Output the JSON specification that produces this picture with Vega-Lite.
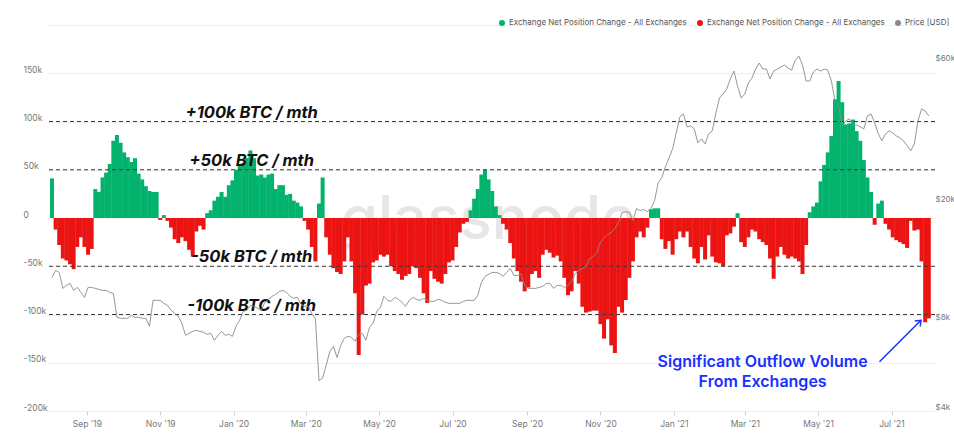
{
"$schema":"https://vega.github.io/schema/vega-lite/v6.json",
"width":888,"height":386,
"autosize":{"type":"none"},
"padding":{"left":47,"top":25,"right":19,"bottom":34},
"background":"white",
"config":{"view":{"stroke":null},"font":"Inter","axis":{"labelFont":"Inter"},"legend":{"labelFont":"Inter"}},
"datasets":{"flows":[
{"d":"2019-08-03","f":41000,"p":11280},{"d":"2019-08-06","f":-12000,"p":11908},{"d":"2019-08-09","f":-28000,"p":11725},{"d":"2019-08-12","f":-42000,"p":10359},{"d":"2019-08-15","f":-44000,"p":10603},{"d":"2019-08-18","f":-48000,"p":10768},{"d":"2019-08-21","f":-53000,"p":10200},{"d":"2019-08-24","f":-30000,"p":10440},{"d":"2019-08-27","f":-20000,"p":10043},{"d":"2019-08-30","f":-30000,"p":9662},
{"d":"2019-09-02","f":-38000,"p":10440},{"d":"2019-09-05","f":-32000,"p":10440},{"d":"2019-09-08","f":30000,"p":10359},{"d":"2019-09-11","f":27000,"p":10279},{"d":"2019-09-14","f":42000,"p":10200},{"d":"2019-09-17","f":47000,"p":10200},{"d":"2019-09-20","f":56000,"p":10043},{"d":"2019-09-23","f":80000,"p":9966},{"d":"2019-09-26","f":86000,"p":8276},{"d":"2019-09-29","f":78000,"p":8212},
{"d":"2019-10-02","f":68000,"p":8212},{"d":"2019-10-05","f":63000,"p":8212},{"d":"2019-10-08","f":58000,"p":8405},{"d":"2019-10-11","f":62000,"p":8276},{"d":"2019-10-14","f":46000,"p":8276},{"d":"2019-10-17","f":40000,"p":8212},{"d":"2019-10-20","f":33000,"p":8212},{"d":"2019-10-23","f":28000,"p":7718},{"d":"2019-10-26","f":27000,"p":9441},{"d":"2019-10-29","f":27000,"p":9441},
{"d":"2019-11-01","f":-2000,"p":9441},{"d":"2019-11-04","f":3000,"p":9224},{"d":"2019-11-07","f":-3000,"p":9082},{"d":"2019-11-10","f":-10000,"p":8737},{"d":"2019-11-13","f":-22000,"p":8536},{"d":"2019-11-16","f":-26000,"p":8340},{"d":"2019-11-19","f":-20000,"p":7900},{"d":"2019-11-22","f":-24000,"p":7196},{"d":"2019-11-25","f":-33000,"p":7308},{"d":"2019-11-28","f":-40000,"p":7422},
{"d":"2019-12-01","f":-14000,"p":7480},{"d":"2019-12-04","f":-8000,"p":7422},{"d":"2019-12-07","f":-12000,"p":7365},{"d":"2019-12-10","f":5000,"p":7252},{"d":"2019-12-13","f":8000,"p":7308},{"d":"2019-12-16","f":18000,"p":6929},{"d":"2019-12-19","f":22000,"p":7196},{"d":"2019-12-22","f":27000,"p":7422},{"d":"2019-12-25","f":22000,"p":7196},{"d":"2019-12-28","f":34000,"p":7252},{"d":"2019-12-31","f":39000,"p":7140},
{"d":"2020-01-03","f":50000,"p":7718},{"d":"2020-01-06","f":55000,"p":8086},{"d":"2020-01-09","f":57000,"p":8670},{"d":"2020-01-12","f":62000,"p":8737},{"d":"2020-01-15","f":70000,"p":9082},{"d":"2020-01-18","f":62000,"p":9012},{"d":"2020-01-21","f":44000,"p":8873},{"d":"2020-01-24","f":45000,"p":8737},{"d":"2020-01-27","f":42000,"p":9296},{"d":"2020-01-30","f":45000,"p":9514},
{"d":"2020-02-02","f":46000,"p":9737},{"d":"2020-02-05","f":30000,"p":9889},{"d":"2020-02-08","f":34000,"p":10121},{"d":"2020-02-11","f":34000,"p":10200},{"d":"2020-02-14","f":24000,"p":10043},{"d":"2020-02-17","f":25000,"p":9737},{"d":"2020-02-20","f":18000,"p":9588},{"d":"2020-02-23","f":16000,"p":9662},{"d":"2020-02-26","f":12000,"p":9153},{"d":"2020-02-29","f":-3000,"p":9012},
{"d":"2020-03-03","f":-12000,"p":9012},{"d":"2020-03-06","f":-30000,"p":8536},{"d":"2020-03-09","f":-45000,"p":8212},{"d":"2020-03-12","f":15000,"p":5060},{"d":"2020-03-15","f":42000,"p":5164},{"d":"2020-03-18","f":-20000,"p":5709},{"d":"2020-03-21","f":-38000,"p":6350},{"d":"2020-03-24","f":-52000,"p":6600},{"d":"2020-03-27","f":-56000,"p":6060},{"d":"2020-03-30","f":-58000,"p":6658},
{"d":"2020-04-02","f":-45000,"p":7030},{"d":"2020-04-05","f":-20000,"p":7140},{"d":"2020-04-08","f":-45000,"p":7085},{"d":"2020-04-11","f":-78000,"p":6875},{"d":"2020-04-14","f":-142000,"p":7252},{"d":"2020-04-17","f":-100000,"p":7308},{"d":"2020-04-20","f":-70000,"p":6929},{"d":"2020-04-23","f":-68000,"p":7658},{"d":"2020-04-26","f":-46000,"p":7900},{"d":"2020-04-29","f":-44000,"p":8670},
{"d":"2020-05-02","f":-38000,"p":8942},{"d":"2020-05-05","f":-40000,"p":9737},{"d":"2020-05-08","f":-38000,"p":9441},{"d":"2020-05-11","f":-50000,"p":9368},{"d":"2020-05-14","f":-55000,"p":9662},{"d":"2020-05-17","f":-58000,"p":9514},{"d":"2020-05-20","f":-64000,"p":9296},{"d":"2020-05-23","f":-60000,"p":9012},{"d":"2020-05-26","f":-58000,"p":9441},{"d":"2020-05-29","f":-50000,"p":9662},
{"d":"2020-06-01","f":-52000,"p":9514},{"d":"2020-06-04","f":-62000,"p":9441},{"d":"2020-06-07","f":-78000,"p":9588},{"d":"2020-06-10","f":-88000,"p":9441},{"d":"2020-06-13","f":-55000,"p":9368},{"d":"2020-06-16","f":-63000,"p":9368},{"d":"2020-06-19","f":-66000,"p":9514},{"d":"2020-06-22","f":-68000,"p":9441},{"d":"2020-06-25","f":-58000,"p":9296},{"d":"2020-06-28","f":-46000,"p":9224},
{"d":"2020-07-01","f":-44000,"p":9224},{"d":"2020-07-04","f":-30000,"p":9224},{"d":"2020-07-07","f":-15000,"p":9224},{"d":"2020-07-10","f":-6000,"p":9368},{"d":"2020-07-13","f":-4000,"p":9441},{"d":"2020-07-16","f":8000,"p":9441},{"d":"2020-07-19","f":20000,"p":9441},{"d":"2020-07-22","f":30000,"p":9813},{"d":"2020-07-25","f":45000,"p":10852},{"d":"2020-07-28","f":50000,"p":11368},{"d":"2020-07-31","f":40000,"p":11545},
{"d":"2020-08-03","f":28000,"p":11725},{"d":"2020-08-06","f":12000,"p":11725},{"d":"2020-08-09","f":3000,"p":11635},{"d":"2020-08-12","f":-6000,"p":11368},{"d":"2020-08-15","f":-12000,"p":11725},{"d":"2020-08-18","f":-26000,"p":12094},{"d":"2020-08-21","f":-42000,"p":11456},{"d":"2020-08-24","f":-55000,"p":11456},{"d":"2020-08-27","f":-66000,"p":11635},{"d":"2020-08-30","f":-76000,"p":10603},
{"d":"2020-09-02","f":-72000,"p":10359},{"d":"2020-09-05","f":-58000,"p":10359},{"d":"2020-09-08","f":-55000,"p":10359},{"d":"2020-09-11","f":-62000,"p":10440},{"d":"2020-09-14","f":-38000,"p":10521},{"d":"2020-09-17","f":-33000,"p":10768},{"d":"2020-09-20","f":-36000,"p":10768},{"d":"2020-09-23","f":-41000,"p":10359},{"d":"2020-09-26","f":-39000,"p":10603},{"d":"2020-09-29","f":-45000,"p":10603},
{"d":"2020-10-02","f":-62000,"p":10440},{"d":"2020-10-05","f":-80000,"p":10603},{"d":"2020-10-08","f":-76000,"p":10936},{"d":"2020-10-11","f":-55000,"p":11635},{"d":"2020-10-14","f":-68000,"p":11908},{"d":"2020-10-17","f":-92000,"p":12094},{"d":"2020-10-20","f":-98000,"p":12283},{"d":"2020-10-23","f":-97000,"p":13066},{"d":"2020-10-26","f":-96000,"p":13270},{"d":"2020-10-29","f":-96000,"p":13685},
{"d":"2020-11-01","f":-110000,"p":14790},{"d":"2020-11-04","f":-125000,"p":15370},{"d":"2020-11-07","f":-105000,"p":15730},{"d":"2020-11-10","f":-132000,"p":15980},{"d":"2020-11-13","f":-140000,"p":16480},{"d":"2020-11-16","f":-92000,"p":17260},{"d":"2020-11-19","f":-98000,"p":18657},{"d":"2020-11-22","f":-85000,"p":18797},{"d":"2020-11-25","f":-62000,"p":18657},{"d":"2020-11-28","f":-45000,"p":17532},
{"d":"2020-12-01","f":-20000,"p":19245},{"d":"2020-12-04","f":-14000,"p":18948},{"d":"2020-12-07","f":-20000,"p":19100},{"d":"2020-12-10","f":-10000,"p":18797},{"d":"2020-12-13","f":9000,"p":19245},{"d":"2020-12-16","f":10000,"p":20470},{"d":"2020-12-19","f":10000,"p":23532},{"d":"2020-12-22","f":-22000,"p":24440},{"d":"2020-12-25","f":-32000,"p":26630},{"d":"2020-12-28","f":-24000,"p":28520},{"d":"2020-12-31","f":-38000,"p":30600},
{"d":"2021-01-03","f":-22000,"p":34640},{"d":"2021-01-06","f":-14000,"p":39210},{"d":"2021-01-09","f":-20000,"p":40120},{"d":"2021-01-12","f":-14000,"p":36280},{"d":"2021-01-15","f":-30000,"p":36564},{"d":"2021-01-18","f":-42000,"p":35730},{"d":"2021-01-21","f":-47000,"p":32060},{"d":"2021-01-24","f":-30000,"p":33067},{"d":"2021-01-27","f":-43000,"p":31810},{"d":"2021-01-30","f":-18000,"p":34370},
{"d":"2021-02-02","f":-40000,"p":35180},{"d":"2021-02-05","f":-46000,"p":40440},{"d":"2021-02-08","f":-47000,"p":45400},{"d":"2021-02-11","f":-50000,"p":46840},{"d":"2021-02-14","f":-18000,"p":48700},{"d":"2021-02-17","f":-16000,"p":52600},{"d":"2021-02-20","f":-9000,"p":55960},{"d":"2021-02-23","f":5000,"p":49830},{"d":"2021-02-26","f":-25000,"p":45400},
{"d":"2021-03-01","f":-30000,"p":46840},{"d":"2021-03-04","f":-20000,"p":51000},{"d":"2021-03-07","f":-12000,"p":53000},{"d":"2021-03-10","f":-14000,"p":56840},{"d":"2021-03-13","f":-22000,"p":59540},{"d":"2021-03-16","f":-25000,"p":56840},{"d":"2021-03-19","f":-28000,"p":56840},{"d":"2021-03-22","f":-42000,"p":52600},{"d":"2021-03-25","f":-63000,"p":55960},{"d":"2021-03-28","f":-40000,"p":56840},{"d":"2021-03-31","f":-30000,"p":57720},
{"d":"2021-04-03","f":-38000,"p":58620},{"d":"2021-04-06","f":-42000,"p":57280},{"d":"2021-04-09","f":-40000,"p":56400},{"d":"2021-04-12","f":-42000,"p":60930},{"d":"2021-04-15","f":-45000,"p":62840},{"d":"2021-04-18","f":-58000,"p":58620},{"d":"2021-04-21","f":-28000,"p":51800},{"d":"2021-04-24","f":6000,"p":51800},{"d":"2021-04-27","f":12000,"p":55544},{"d":"2021-04-30","f":16000,"p":56840},
{"d":"2021-05-03","f":38000,"p":55960},{"d":"2021-05-06","f":55000,"p":56840},{"d":"2021-05-09","f":68000,"p":56400},{"d":"2021-05-12","f":85000,"p":51800},{"d":"2021-05-15","f":123000,"p":44360},{"d":"2021-05-18","f":142000,"p":42680},{"d":"2021-05-21","f":120000,"p":36564},{"d":"2021-05-24","f":97000,"p":38008},{"d":"2021-05-27","f":98000,"p":38600},{"d":"2021-05-30","f":102000,"p":36564},
{"d":"2021-06-02","f":90000,"p":36850},{"d":"2021-06-05","f":80000,"p":36280},{"d":"2021-06-08","f":60000,"p":35730},{"d":"2021-06-11","f":42000,"p":39508},{"d":"2021-06-14","f":27000,"p":40120},{"d":"2021-06-17","f":-7000,"p":37424},{"d":"2021-06-20","f":15000,"p":34370},{"d":"2021-06-23","f":18000,"p":32560},{"d":"2021-06-26","f":-6000,"p":34370},{"d":"2021-06-29","f":-12000,"p":35180},
{"d":"2021-07-02","f":-20000,"p":34640},{"d":"2021-07-05","f":-23000,"p":33840},{"d":"2021-07-08","f":-25000,"p":33320},{"d":"2021-07-11","f":-27000,"p":32560},{"d":"2021-07-14","f":-31000,"p":31320},{"d":"2021-07-17","f":-3000,"p":30140},{"d":"2021-07-20","f":-13000,"p":31810},{"d":"2021-07-23","f":-12000,"p":38008},{"d":"2021-07-26","f":-45000,"p":41710},{"d":"2021-07-29","f":-108000,"p":41070},{"d":"2021-08-01","f":-104000,"p":39508}
],
"levels":[{"level":100000,"label":"+100k BTC / mth"},{"level":50000,"label":"+50k BTC / mth"},{"level":-50000,"label":"-50k BTC / mth"},{"level":-100000,"label":"-100k BTC / mth"}],
"note":[{"t":"2021-03-15T20:00:00Z","v":-148800,"txt":"Significant Outflow Volume"},{"t":"2021-03-15T20:00:00Z","v":-169600,"txt":"From Exchanges"}],
"arrow":[{"t0":"2021-06-21T00:00:00Z","v0":-149000,"t1":"2021-07-25T12:00:00Z","v1":-106000}]
},
"layer":[
{"layer":[
 {"data":{"values":[{"w":"glassnode"}]},
  "mark":{"type":"text","font":"Inter","fontSize":60,"fontWeight":500,"color":"#e6e6e6","align":"center","baseline":"alphabetic"},
  "encoding":{"x":{"datum":{"year":2020,"month":7,"date":31,"utc":true},"type":"temporal","title":null},"y":{"datum":-22000,"type":"quantitative","title":null},"text":{"field":"w"}}},
 {"data":{"name":"flows"},
  "transform":[{"calculate":"datum.f >= 0 ? 'pos' : 'neg'","as":"series"}],
  "mark":{"type":"bar","width":4,"clip":true},
  "encoding":{
   "x":{"field":"d","type":"temporal","title":null,
    "scale":{"type":"utc","domain":[{"year":2019,"month":8,"date":3,"utc":true},{"year":2021,"month":8,"date":2,"utc":true}]},
    "axis":{"format":"%b '%y","tickCount":{"interval":"month","step":2},"labelFontSize":8.5,"labelColor":"#777","tickColor":"#d0d0d0","tickSize":4,"labelPadding":4,"domain":false,"grid":false,"title":null}},
   "y":{"field":"f","type":"quantitative","title":null,
    "scale":{"domain":[-200000,200000],"nice":false,"zero":false},
    "axis":{"orient":"left","values":[-200000,-150000,-100000,-50000,0,50000,100000,150000,200000],
     "labelExpr":"datum.value == 200000 ? '' : (datum.value == 0 ? '0' : (datum.value/1000) + 'k')",
     "grid":true,"gridColor":"#efefef","domain":false,"ticks":false,"labelAlign":"left","labelPadding":24,"labelBaseline":"middle","labelOffset":-4,"labelFontSize":8.5,"labelColor":"#777","title":null}},
   "color":{"field":"series","type":"nominal","scale":{"domain":["pos","neg","price"],"range":["#03b26c","#ec1313","#8a8a8a"]},
    "legend":{"orient":"none","legendX":451,"legendY":-6,"direction":"horizontal","title":null,"symbolType":"circle","symbolSize":36,"symbolStrokeWidth":0,"labelFontSize":8,"labelColor":"#555","labelLimit":400,"columnPadding":9,"labelOffset":3,
     "labelExpr":"datum.label == 'price' ? 'Price [USD]' : 'Exchange Net Position Change - All Exchanges'"}}
  }},
 {"data":{"name":"levels"},
  "mark":{"type":"rule","strokeDash":[4,3],"color":"#3a3a3a","strokeWidth":1},
  "encoding":{"y":{"field":"level","type":"quantitative","title":null}}},
 {"data":{"name":"levels"},
  "mark":{"type":"text","font":"Inter","fontSize":16.5,"fontWeight":"bold","fontStyle":"italic","color":"#111","baseline":"alphabetic","align":"center","dy":-4},
  "encoding":{"x":{"datum":{"year":2020,"month":1,"date":16,"utc":true},"type":"temporal","title":null},"y":{"field":"level","type":"quantitative","title":null},"text":{"field":"label"}}},
 {"data":{"name":"arrow"},
  "mark":{"type":"rule","color":"#1a2fff","strokeWidth":1.5},
  "encoding":{"x":{"field":"t0","type":"temporal","title":null},"x2":{"field":"t1"},"y":{"field":"v0","type":"quantitative","title":null},"y2":{"field":"v1"}}},
 {"data":{"name":"arrow"},
  "mark":{"type":"point","shape":"M -0.7 0.9 L 0 0 L 0.7 0.9","filled":false,"stroke":"#1a2fff","strokeWidth":1.5,"size":120,"angle":45,"opacity":1},
  "encoding":{"x":{"field":"t1","type":"temporal","title":null},"y":{"field":"v1","type":"quantitative","title":null}}},
 {"data":{"name":"note"},
  "mark":{"type":"text","font":"Inter","fontSize":16,"fontWeight":600,"color":"#1a2fff","align":"center","baseline":"middle"},
  "encoding":{"x":{"field":"t","type":"temporal","title":null},"y":{"field":"v","type":"quantitative","title":null},"text":{"field":"txt"}}}
]},
{"data":{"name":"flows"},
 "mark":{"type":"line","strokeWidth":0.9},
 "encoding":{
  "x":{"field":"d","type":"temporal","title":null},
  "y":{"field":"p","type":"quantitative","title":null,
   "scale":{"type":"log","domain":[4000,80000],"nice":false},
   "axis":{"orient":"right","values":[4000,8000,20000,60000],"labelExpr":"'$' + (datum.value/1000) + 'k'","grid":false,"domain":false,"ticks":false,"labelPadding":0,"labelOffset":-4,"labelBaseline":"middle","labelFontSize":8,"labelColor":"#777","title":null}},
  "color":{"datum":"price"}
 }}
],
"resolve":{"scale":{"y":"independent"}}
}
